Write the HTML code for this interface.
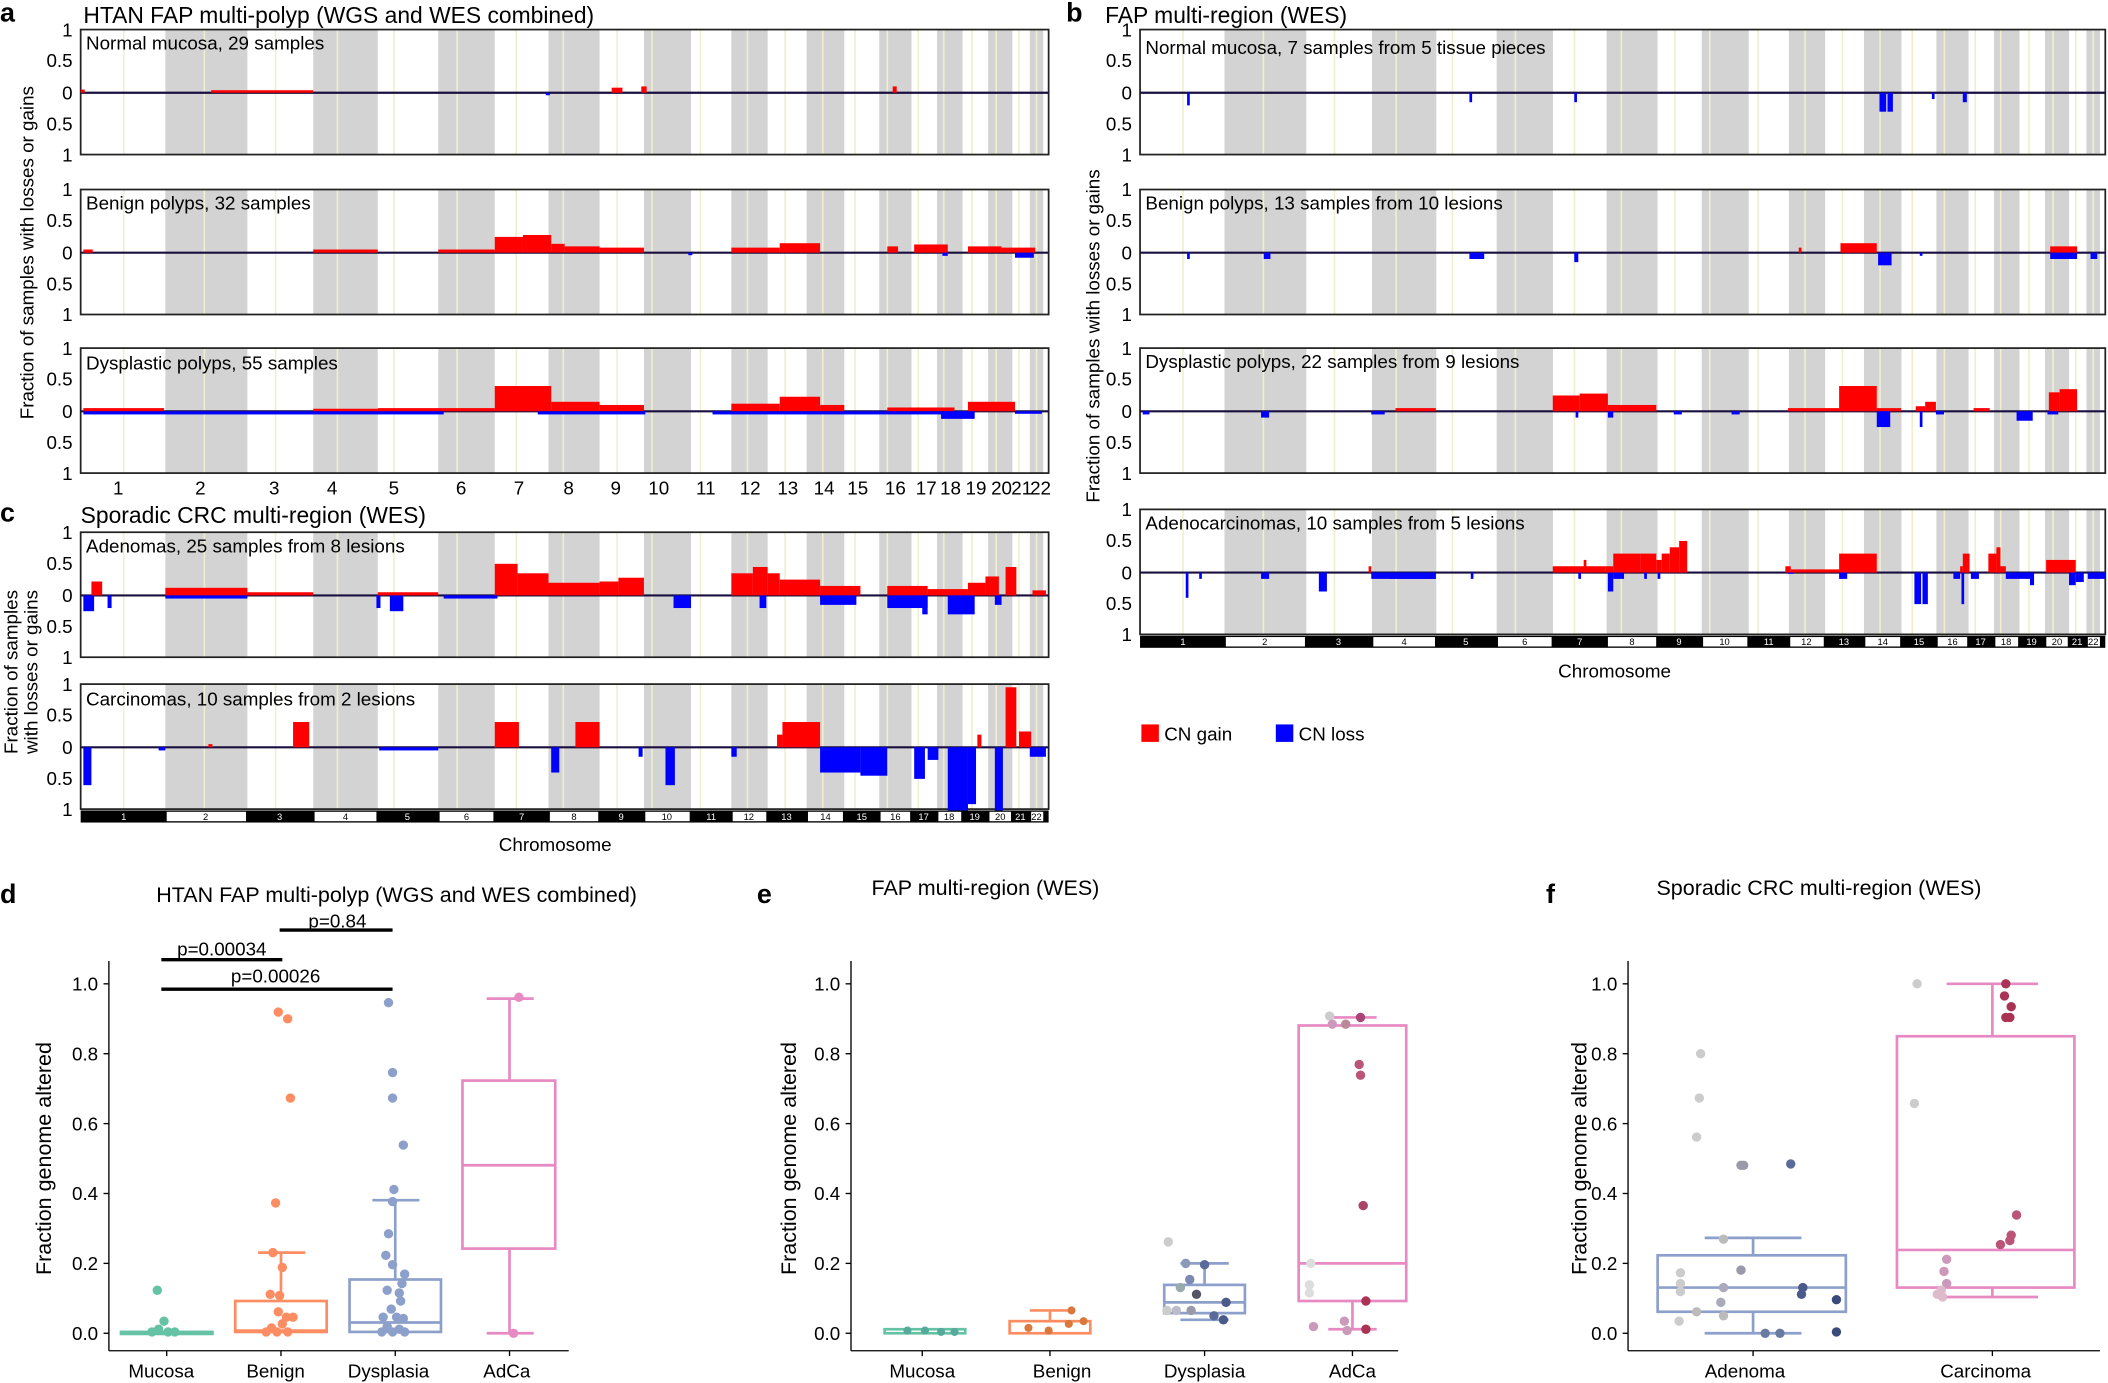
<!DOCTYPE html>
<html><head><meta charset="utf-8"><style>
html,body{margin:0;padding:0;background:#fff}
svg{display:block}
text{font-family:"Liberation Sans",Arial,sans-serif;fill:#000}
</style></head><body>
<svg width="2108" height="1383" viewBox="0 0 1568 1029" preserveAspectRatio="none" xmlns="http://www.w3.org/2000/svg">
<defs>
<g id="bg">
<g fill="#d3d3d3">
<rect x="123" y="0" width="61" height="93"/><rect x="233" y="0" width="48" height="93"/><rect x="326" y="0" width="42" height="93"/><rect x="408" y="0" width="38" height="93"/><rect x="479" y="0" width="35" height="93"/><rect x="544" y="0" width="27" height="93"/><rect x="600" y="0" width="28" height="93"/><rect x="654" y="0" width="24" height="93"/><rect x="697" y="0" width="19" height="93"/><rect x="735" y="0" width="18" height="93"/><rect x="766" y="0" width="10" height="93"/>
</g>
<g stroke="#efefcf" stroke-width="1.2">
<line x1="92" y1="0" x2="92" y2="93"/><line x1="152" y1="0" x2="152" y2="93"/><line x1="205" y1="0" x2="205" y2="93"/><line x1="251" y1="0" x2="251" y2="93"/><line x1="293" y1="0" x2="293" y2="93"/><line x1="340" y1="0" x2="340" y2="93"/><line x1="384" y1="0" x2="384" y2="93"/><line x1="419" y1="0" x2="419" y2="93"/><line x1="459" y1="0" x2="459" y2="93"/><line x1="485" y1="0" x2="485" y2="93"/><line x1="521" y1="0" x2="521" y2="93"/><line x1="556" y1="0" x2="556" y2="93"/><line x1="584" y1="0" x2="584" y2="93"/><line x1="612" y1="0" x2="612" y2="93"/><line x1="636" y1="0" x2="636" y2="93"/><line x1="660" y1="0" x2="660" y2="93"/><line x1="683" y1="0" x2="683" y2="93"/><line x1="702" y1="0" x2="702" y2="93"/><line x1="723" y1="0" x2="723" y2="93"/><line x1="741" y1="0" x2="741" y2="93"/><line x1="758" y1="0" x2="758" y2="93"/><line x1="771" y1="0" x2="771" y2="93"/>
</g>
<rect x="60" y="0" width="720" height="93" fill="none" stroke="#222" stroke-width="1.3"/>
<line x1="60" y1="47" x2="780" y2="47" stroke="#1a1040" stroke-width="1.6"/>
</g>
<g id="ytk" font-size="14" text-anchor="end">
<text x="54" y="5">1</text><text x="54" y="28">0.5</text><text x="54" y="52">0</text><text x="54" y="75">0.5</text><text x="54" y="98">1</text>
</g>
<g id="chrbar">
<rect x="60" y="0" width="720" height="9" fill="#000"/>
<g fill="#fff"><rect x="124" y="1" width="59" height="7"/><rect x="234" y="1" width="46" height="7"/><rect x="327" y="1" width="40" height="7"/><rect x="409" y="1" width="36" height="7"/><rect x="480" y="1" width="33" height="7"/><rect x="545" y="1" width="25" height="7"/><rect x="601" y="1" width="26" height="7"/><rect x="655" y="1" width="22" height="7"/><rect x="698" y="1" width="17" height="7"/><rect x="736" y="1" width="16" height="7"/><rect x="767" y="1" width="9" height="7"/></g>
<g font-size="7" text-anchor="middle">
<text x="92" y="7" fill="#fff" style="fill:#fff">1</text><text x="153" y="7">2</text><text x="208" y="7" style="fill:#fff">3</text><text x="257" y="7">4</text><text x="303" y="7" style="fill:#fff">5</text><text x="347" y="7">6</text><text x="388" y="7" style="fill:#fff">7</text><text x="427" y="7">8</text><text x="462" y="7" style="fill:#fff">9</text><text x="496" y="7">10</text><text x="529" y="7" style="fill:#fff">11</text><text x="557" y="7">12</text><text x="585" y="7" style="fill:#fff">13</text><text x="614" y="7">14</text><text x="641" y="7" style="fill:#fff">15</text><text x="666" y="7">16</text><text x="687" y="7" style="fill:#fff">17</text><text x="706" y="7">18</text><text x="725" y="7" style="fill:#fff">19</text><text x="744" y="7">20</text><text x="759" y="7" style="fill:#fff">21</text><text x="771" y="7">22</text>
</g>
</g>
</defs>

<!-- Panel a -->
<text x="0" y="16" font-size="20" font-weight="bold">a</text>
<text x="62" y="17" font-size="17">HTAN FAP multi-polyp (WGS and WES combined)</text>
<text transform="translate(25,188) rotate(-90)" font-size="14" text-anchor="middle">Fraction of samples with losses or gains</text>

<use href="#bg" y="22"/><use href="#ytk" y="22"/>
<g transform="translate(0,69) scale(1,-47)" fill="#f00"><rect x="157" y="0" width="76" height=".04"/><rect x="455" y="0" width="8" height=".08"/><rect x="477" y="0" width="4" height=".1"/><rect x="664" y="0" width="3" height=".1"/><rect x="60" y="0" width="3" height=".05"/></g>
<g transform="translate(0,69) scale(1,47)" fill="#00f"><rect x="406" y="0" width="3" height=".04"/></g>
<text x="64" y="37" font-size="14">Normal mucosa, 29 samples</text>

<use href="#bg" y="141"/><use href="#ytk" y="141"/>
<g transform="translate(0,188) scale(1,-47)" fill="#f00"><rect x="62" y="0" width="7" height=".05"/><rect x="233" y="0" width="48" height=".05"/><rect x="326" y="0" width="42" height=".05"/><rect x="368" y="0" width="21" height=".25"/><rect x="389" y="0" width="21" height=".28"/><rect x="410" y="0" width="10" height=".14"/><rect x="420" y="0" width="26" height=".1"/><rect x="446" y="0" width="33" height=".08"/><rect x="544" y="0" width="36" height=".08"/><rect x="580" y="0" width="30" height=".15"/><rect x="660" y="0" width="8" height=".1"/><rect x="680" y="0" width="25" height=".13"/><rect x="720" y="0" width="25" height=".1"/><rect x="745" y="0" width="25" height=".08"/></g>
<g transform="translate(0,188) scale(1,47)" fill="#00f"><rect x="755" y="0" width="14" height=".08"/><rect x="701" y="0" width="4" height=".05"/><rect x="512" y="0" width="3" height=".04"/></g>
<text x="64" y="156" font-size="14">Benign polyps, 32 samples</text>

<use href="#bg" y="259"/><use href="#ytk" y="259"/>
<g transform="translate(0,306) scale(1,-47)" fill="#f00"><rect x="62" y="0" width="60" height=".05"/><rect x="233" y="0" width="48" height=".04"/><rect x="281" y="0" width="87" height=".05"/><rect x="368" y="0" width="42" height=".4"/><rect x="410" y="0" width="36" height=".15"/><rect x="446" y="0" width="33" height=".1"/><rect x="544" y="0" width="36" height=".12"/><rect x="580" y="0" width="30" height=".23"/><rect x="610" y="0" width="18" height=".1"/><rect x="660" y="0" width="50" height=".06"/><rect x="720" y="0" width="35" height=".15"/></g>
<g transform="translate(0,306) scale(1,47)" fill="#00f"><rect x="62" y="0" width="268" height=".05"/><rect x="400" y="0" width="80" height=".05"/><rect x="530" y="0" width="190" height=".05"/><rect x="700" y="0" width="25" height=".12"/><rect x="755" y="0" width="20" height=".04"/></g>
<text x="64" y="275" font-size="14">Dysplastic polyps, 55 samples</text>

<g font-size="14" text-anchor="middle">
<text x="88" y="368">1</text><text x="149" y="368">2</text><text x="204" y="368">3</text><text x="247" y="368">4</text><text x="293" y="368">5</text><text x="343" y="368">6</text><text x="386" y="368">7</text><text x="423" y="368">8</text><text x="458" y="368">9</text><text x="490" y="368">10</text><text x="525" y="368">11</text><text x="558" y="368">12</text><text x="586" y="368">13</text><text x="613" y="368">14</text><text x="638" y="368">15</text><text x="666" y="368">16</text><text x="689" y="368">17</text><text x="707" y="368">18</text><text x="726" y="368">19</text><text x="745" y="368">20</text><text x="760" y="368">21</text><text x="774" y="368">22</text>
</g>

<!-- Panel c -->
<text x="0" y="388" font-size="20" font-weight="bold">c</text>
<text x="60" y="389" font-size="17">Sporadic CRC multi-region (WES)</text>
<text transform="translate(13,500) rotate(-90)" font-size="14" text-anchor="middle">Fraction of samples</text>
<text transform="translate(28,500) rotate(-90)" font-size="14" text-anchor="middle">with losses or gains</text>

<use href="#bg" y="396"/><use href="#ytk" y="396"/>
<g transform="translate(0,443) scale(1,-47)" fill="#f00"><rect x="68" y="0" width="8" height=".22"/><rect x="123" y="0" width="61" height=".12"/><rect x="184" y="0" width="49" height=".05"/><rect x="281" y="0" width="45" height=".05"/><rect x="368" y="0" width="17" height=".5"/><rect x="385" y="0" width="23" height=".35"/><rect x="408" y="0" width="38" height=".2"/><rect x="446" y="0" width="14" height=".22"/><rect x="460" y="0" width="19" height=".28"/><rect x="544" y="0" width="16" height=".35"/><rect x="560" y="0" width="11" height=".45"/><rect x="571" y="0" width="9" height=".35"/><rect x="580" y="0" width="30" height=".25"/><rect x="610" y="0" width="30" height=".15"/><rect x="660" y="0" width="30" height=".15"/><rect x="690" y="0" width="30" height=".1"/><rect x="720" y="0" width="13" height=".2"/><rect x="733" y="0" width="10" height=".3"/><rect x="748" y="0" width="8" height=".45"/><rect x="768" y="0" width="10" height=".08"/></g>
<g transform="translate(0,443) scale(1,47)" fill="#00f"><rect x="62" y="0" width="8" height=".25"/><rect x="80" y="0" width="3" height=".2"/><rect x="123" y="0" width="61" height=".05"/><rect x="280" y="0" width="3" height=".2"/><rect x="290" y="0" width="10" height=".25"/><rect x="501" y="0" width="13" height=".2"/><rect x="565" y="0" width="5" height=".2"/><rect x="610" y="0" width="27" height=".15"/><rect x="660" y="0" width="30" height=".2"/><rect x="686" y="0" width="4" height=".3"/><rect x="705" y="0" width="20" height=".3"/><rect x="740" y="0" width="5" height=".15"/><rect x="330" y="0" width="40" height=".05"/></g>
<text x="64" y="411" font-size="14">Adenomas, 25 samples from 8 lesions</text>

<use href="#bg" y="509"/><use href="#ytk" y="509"/>
<g transform="translate(0,556) scale(1,-47)" fill="#f00"><rect x="218" y="0" width="12" height=".4"/><rect x="368" y="0" width="18" height=".4"/><rect x="428" y="0" width="18" height=".4"/><rect x="582" y="0" width="28" height=".4"/><rect x="578" y="0" width="4" height=".2"/><rect x="727" y="0" width="3" height=".2"/><rect x="748" y="0" width="8" height=".95"/><rect x="758" y="0" width="9" height=".25"/><rect x="155" y="0" width="3" height=".05"/></g>
<g transform="translate(0,556) scale(1,47)" fill="#00f"><rect x="62" y="0" width="6" height=".6"/><rect x="118" y="0" width="5" height=".05"/><rect x="410" y="0" width="6" height=".4"/><rect x="475" y="0" width="3" height=".15"/><rect x="495" y="0" width="7" height=".6"/><rect x="544" y="0" width="4" height=".15"/><rect x="610" y="0" width="30" height=".4"/><rect x="640" y="0" width="20" height=".45"/><rect x="680" y="0" width="8" height=".5"/><rect x="705" y="0" width="15" height="1"/><rect x="720" y="0" width="6" height=".9"/><rect x="740" y="0" width="6" height="1"/><rect x="766" y="0" width="12" height=".15"/><rect x="282" y="0" width="44" height=".05"/><rect x="690" y="0" width="8" height=".2"/></g>
<text x="64" y="525" font-size="14">Carcinomas, 10 samples from 2 lesions</text>
<use href="#chrbar" y="603"/>
<text x="413" y="633" font-size="14" text-anchor="middle">Chromosome</text>

<!-- Panel b -->
<text x="793" y="16" font-size="20" font-weight="bold">b</text>
<text x="822" y="17" font-size="17">FAP multi-region (WES)</text>
<text transform="translate(818,250) rotate(-90)" font-size="14" text-anchor="middle">Fraction of samples with losses or gains</text>
<g transform="translate(848,0) scale(0.9972,1) translate(-60,0)">
<use href="#bg" y="22"/><use href="#bg" y="141"/><use href="#bg" y="259"/><use href="#bg" y="379"/><use href="#chrbar" y="473"/>
</g>
<g transform="translate(788,0)"><use href="#ytk" y="22"/><use href="#ytk" y="141"/><use href="#ytk" y="259"/><use href="#ytk" y="379"/></g>
<g transform="translate(0,69) scale(1,47)" fill="#00f"><rect x="883" y="0" width="2" height=".2"/><rect x="1093" y="0" width="2" height=".15"/><rect x="1171" y="0" width="2" height=".15"/><rect x="1398" y="0" width="5" height=".3"/><rect x="1404" y="0" width="4" height=".3"/><rect x="1437" y="0" width="2" height=".1"/><rect x="1460" y="0" width="3" height=".15"/></g>
<text x="852" y="40" font-size="14">Normal mucosa, 7 samples from 5 tissue pieces</text>
<g transform="translate(0,188) scale(1,-47)" fill="#f00"><rect x="1369" y="0" width="27" height=".15"/><rect x="1525" y="0" width="20" height=".1"/><rect x="1338" y="0" width="2" height=".08"/></g>
<g transform="translate(0,188) scale(1,47)" fill="#00f"><rect x="883" y="0" width="2" height=".1"/><rect x="940" y="0" width="5" height=".1"/><rect x="1093" y="0" width="11" height=".1"/><rect x="1171" y="0" width="3" height=".15"/><rect x="1397" y="0" width="10" height=".2"/><rect x="1428" y="0" width="2" height=".05"/><rect x="1525" y="0" width="20" height=".1"/><rect x="1555" y="0" width="5" height=".1"/></g>
<text x="852" y="156" font-size="14">Benign polyps, 13 samples from 10 lesions</text>
<g transform="translate(0,306) scale(1,-47)" fill="#f00"><rect x="1038" y="0" width="30" height=".05"/><rect x="1155" y="0" width="20" height=".25"/><rect x="1175" y="0" width="21" height=".28"/><rect x="1196" y="0" width="36" height=".1"/><rect x="1330" y="0" width="38" height=".05"/><rect x="1368" y="0" width="28" height=".4"/><rect x="1396" y="0" width="18" height=".05"/><rect x="1432" y="0" width="8" height=".15"/><rect x="1425" y="0" width="7" height=".08"/><rect x="1468" y="0" width="12" height=".05"/><rect x="1524" y="0" width="8" height=".3"/><rect x="1532" y="0" width="13" height=".35"/></g>
<g transform="translate(0,306) scale(1,47)" fill="#00f"><rect x="850" y="0" width="5" height=".05"/><rect x="938" y="0" width="6" height=".1"/><rect x="1020" y="0" width="10" height=".05"/><rect x="1172" y="0" width="2" height=".1"/><rect x="1196" y="0" width="4" height=".1"/><rect x="1245" y="0" width="6" height=".05"/><rect x="1288" y="0" width="6" height=".05"/><rect x="1396" y="0" width="10" height=".25"/><rect x="1428" y="0" width="2" height=".25"/><rect x="1440" y="0" width="6" height=".05"/><rect x="1500" y="0" width="12" height=".15"/><rect x="1523" y="0" width="8" height=".05"/></g>
<text x="852" y="274" font-size="14">Dysplastic polyps, 22 samples from 9 lesions</text>
<g transform="translate(0,426) scale(1,-47)" fill="#f00"><rect x="1018" y="0" width="2" height=".1"/><rect x="1155" y="0" width="39" height=".1"/><rect x="1178" y="0" width="2" height=".2"/><rect x="1194" y="0" width="6" height=".1"/><rect x="1200" y="0" width="20" height=".3"/><rect x="1220" y="0" width="12" height=".3"/><rect x="1232" y="0" width="4" height=".2"/><rect x="1236" y="0" width="6" height=".3"/><rect x="1242" y="0" width="7" height=".4"/><rect x="1249" y="0" width="6" height=".5"/><rect x="1328" y="0" width="4" height=".1"/><rect x="1332" y="0" width="36" height=".05"/><rect x="1368" y="0" width="28" height=".3"/><rect x="1458" y="0" width="2" height=".1"/><rect x="1460" y="0" width="5" height=".3"/><rect x="1479" y="0" width="6" height=".3"/><rect x="1485" y="0" width="3" height=".4"/><rect x="1488" y="0" width="4" height=".1"/><rect x="1522" y="0" width="22" height=".2"/></g>
<g transform="translate(0,426) scale(1,47)" fill="#00f"><rect x="882" y="0" width="2" height=".4"/><rect x="892" y="0" width="2" height=".1"/><rect x="938" y="0" width="6" height=".1"/><rect x="981" y="0" width="6" height=".3"/><rect x="1020" y="0" width="48" height=".1"/><rect x="1034" y="0" width="34" height=".1"/><rect x="1094" y="0" width="2" height=".1"/><rect x="1174" y="0" width="2" height=".1"/><rect x="1196" y="0" width="4" height=".3"/><rect x="1200" y="0" width="8" height=".1"/><rect x="1223" y="0" width="2" height=".1"/><rect x="1233" y="0" width="2" height=".1"/><rect x="1330" y="0" width="4" height=".02"/><rect x="1368" y="0" width="6" height=".1"/><rect x="1424" y="0" width="5" height=".5"/><rect x="1430" y="0" width="4" height=".5"/><rect x="1453" y="0" width="5" height=".1"/><rect x="1459" y="0" width="2" height=".5"/><rect x="1466" y="0" width="6" height=".1"/><rect x="1492" y="0" width="18" height=".1"/><rect x="1510" y="0" width="3" height=".2"/><rect x="1539" y="0" width="5" height=".2"/><rect x="1544" y="0" width="6" height=".15"/><rect x="1553" y="0" width="13" height=".1"/></g>
<text x="852" y="394" font-size="14">Adenocarcinomas, 10 samples from 5 lesions</text>
<text x="1201" y="504" font-size="14" text-anchor="middle">Chromosome</text>

<!-- legend -->
<rect x="849" y="539" width="13" height="13" fill="#f00"/><text x="866" y="551" font-size="14">CN gain</text>
<rect x="949" y="539" width="13" height="13" fill="#00f"/><text x="966" y="551" font-size="14">CN loss</text>

<!-- Panel d -->
<text x="0" y="672" font-size="20" font-weight="bold">d</text>
<text x="295" y="671" font-size="16" text-anchor="middle">HTAN FAP multi-polyp (WGS and WES combined)</text>
<g stroke="#000" stroke-width="2.5"><line x1="208" y1="692" x2="292" y2="692"/><line x1="120" y1="714" x2="210" y2="714"/><line x1="120" y1="736" x2="292" y2="736"/></g>
<g font-size="14" text-anchor="middle"><text x="251" y="690">p=0.84</text><text x="165" y="711">p=0.00034</text><text x="205" y="731">p=0.00026</text></g>
<text transform="translate(38,862) rotate(-90)" font-size="16" text-anchor="middle">Fraction genome altered</text>
<g stroke="#000" stroke-width="1"><line x1="81" y1="715" x2="81" y2="1005"/><line x1="81" y1="1005" x2="423" y2="1005"/>
<line x1="77" y1="992" x2="81" y2="992"/><line x1="77" y1="940" x2="81" y2="940"/><line x1="77" y1="888" x2="81" y2="888"/><line x1="77" y1="836" x2="81" y2="836"/><line x1="77" y1="784" x2="81" y2="784"/><line x1="77" y1="732" x2="81" y2="732"/>
<line x1="124" y1="1005" x2="124" y2="1009"/><line x1="209" y1="1005" x2="209" y2="1009"/><line x1="294" y1="1005" x2="294" y2="1009"/><line x1="379" y1="1005" x2="379" y2="1009"/></g>
<g font-size="14" text-anchor="end"><text x="73" y="997">0.0</text><text x="73" y="945">0.2</text><text x="73" y="893">0.4</text><text x="73" y="841">0.6</text><text x="73" y="789">0.8</text><text x="73" y="737">1.0</text></g>
<g font-size="14" text-anchor="middle"><text x="120" y="1025">Mucosa</text><text x="205" y="1025">Benign</text><text x="289" y="1025">Dysplasia</text><text x="377" y="1025">AdCa</text></g>
<g fill="none" stroke-width="2">
<g stroke="#66c2a5"><rect x="90" y="991" width="68" height="1.5"/></g>
<g stroke="#fc8d62"><rect x="175" y="968" width="68" height="23"/><line x1="209" y1="968" x2="209" y2="932"/><line x1="192" y1="932" x2="227" y2="932"/><line x1="175" y1="990" x2="243" y2="990"/></g>
<g stroke="#8da0cb"><rect x="260" y="952" width="68" height="39"/><line x1="260" y1="984" x2="328" y2="984"/><line x1="294" y1="952" x2="294" y2="893"/><line x1="277" y1="893" x2="312" y2="893"/></g>
<g stroke="#e78ac3"><rect x="344" y="804" width="69" height="125"/><line x1="344" y1="867" x2="413" y2="867"/><line x1="379" y1="804" x2="379" y2="743"/><line x1="362" y1="743" x2="397" y2="743"/><line x1="379" y1="929" x2="379" y2="992"/><line x1="362" y1="992" x2="397" y2="992"/></g>
</g>
<g fill="#66c2a5"><circle cx="117" cy="960" r="3.5"/><circle cx="122" cy="983" r="3.5"/><circle cx="118" cy="989" r="3.5"/><circle cx="125" cy="991" r="3.5"/><circle cx="113" cy="991" r="3.5"/><circle cx="130" cy="991" r="3.5"/></g>
<g fill="#fc8d62"><circle cx="207" cy="753" r="3.5"/><circle cx="214" cy="758" r="3.5"/><circle cx="216" cy="817" r="3.5"/><circle cx="205" cy="895" r="3.5"/><circle cx="203" cy="932" r="3.5"/><circle cx="210" cy="943" r="3.5"/><circle cx="201" cy="963" r="3.5"/><circle cx="208" cy="964" r="3.5"/><circle cx="207" cy="976" r="3.5"/><circle cx="213" cy="980" r="3.5"/><circle cx="218" cy="980" r="3.5"/><circle cx="210" cy="985" r="3.5"/><circle cx="202" cy="988" r="3.5"/><circle cx="214" cy="991" r="3.5"/><circle cx="198" cy="991" r="3.5"/><circle cx="206" cy="991" r="3.5"/></g>
<g fill="#8da0cb"><circle cx="289" cy="746" r="3.5"/><circle cx="292" cy="798" r="3.5"/><circle cx="292" cy="817" r="3.5"/><circle cx="300" cy="852" r="3.5"/><circle cx="293" cy="885" r="3.5"/><circle cx="292" cy="894" r="3.5"/><circle cx="289" cy="918" r="3.5"/><circle cx="287" cy="934" r="3.5"/><circle cx="292" cy="941" r="3.5"/><circle cx="301" cy="948" r="3.5"/><circle cx="299" cy="955" r="3.5"/><circle cx="288" cy="960" r="3.5"/><circle cx="297" cy="962" r="3.5"/><circle cx="298" cy="968" r="3.5"/><circle cx="291" cy="974" r="3.5"/><circle cx="285" cy="980" r="3.5"/><circle cx="295" cy="980" r="3.5"/><circle cx="300" cy="981" r="3.5"/><circle cx="288" cy="987" r="3.5"/><circle cx="297" cy="989" r="3.5"/><circle cx="284" cy="991" r="3.5"/><circle cx="292" cy="991" r="3.5"/><circle cx="301" cy="991" r="3.5"/></g>
<g fill="#e78ac3"><circle cx="386" cy="742" r="3.5"/><circle cx="382" cy="992" r="3.5"/></g>

<!-- Panel e -->
<text x="563" y="672" font-size="20" font-weight="bold">e</text>
<text x="733" y="666" font-size="16" text-anchor="middle">FAP multi-region (WES)</text>
<text transform="translate(592,862) rotate(-90)" font-size="16" text-anchor="middle">Fraction genome altered</text>
<g stroke="#000" stroke-width="1"><line x1="633" y1="715" x2="633" y2="1005"/><line x1="633" y1="1005" x2="1040" y2="1005"/>
<line x1="629" y1="992" x2="633" y2="992"/><line x1="629" y1="940" x2="633" y2="940"/><line x1="629" y1="888" x2="633" y2="888"/><line x1="629" y1="836" x2="633" y2="836"/><line x1="629" y1="784" x2="633" y2="784"/><line x1="629" y1="732" x2="633" y2="732"/>
<line x1="686" y1="1005" x2="686" y2="1009"/><line x1="781" y1="1005" x2="781" y2="1009"/><line x1="896" y1="1005" x2="896" y2="1009"/><line x1="1006" y1="1005" x2="1006" y2="1009"/></g>
<g font-size="14" text-anchor="end"><text x="625" y="997">0.0</text><text x="625" y="945">0.2</text><text x="625" y="893">0.4</text><text x="625" y="841">0.6</text><text x="625" y="789">0.8</text><text x="625" y="737">1.0</text></g>
<g font-size="14" text-anchor="middle"><text x="686" y="1025">Mucosa</text><text x="790" y="1025">Benign</text><text x="896" y="1025">Dysplasia</text><text x="1006" y="1025">AdCa</text></g>
<g fill="none" stroke-width="2">
<g stroke="#66c2a5"><rect x="658" y="989" width="60" height="3"/></g>
<g stroke="#fc8d62"><rect x="751" y="983" width="60" height="9"/><line x1="781" y1="983" x2="781" y2="975"/><line x1="766" y1="975" x2="796" y2="975"/></g>
<g stroke="#8da0cb"><rect x="866" y="956" width="60" height="21"/><line x1="866" y1="969" x2="926" y2="969"/><line x1="896" y1="956" x2="896" y2="940"/><line x1="878" y1="940" x2="914" y2="940"/><line x1="878" y1="982" x2="914" y2="982"/></g>
<g stroke="#e78ac3"><rect x="966" y="763" width="80" height="205"/><line x1="966" y1="940" x2="1046" y2="940"/><line x1="1006" y1="968" x2="1006" y2="989"/><line x1="988" y1="989" x2="1024" y2="989"/><line x1="988" y1="757" x2="1024" y2="757"/></g>
</g>
<g fill="#5a9"><circle cx="675" cy="990" r="3"/><circle cx="688" cy="990" r="3"/><circle cx="700" cy="991" r="3"/><circle cx="710" cy="991" r="3"/></g>
<g fill="#d9773d"><circle cx="765" cy="988" r="3"/><circle cx="780" cy="990" r="3"/><circle cx="795" cy="985" r="3"/><circle cx="806" cy="983" r="3"/><circle cx="797" cy="975" r="3"/></g>
<g><circle cx="869" cy="924" r="3.5" fill="#ccc"/><circle cx="882" cy="940" r="3.5" fill="#8a9ab8"/><circle cx="885" cy="952" r="3.5" fill="#7b8cb0"/><circle cx="878" cy="958" r="3.5" fill="#9aa"/><circle cx="890" cy="963" r="3.5" fill="#556"/><circle cx="896" cy="941" r="3.5" fill="#5a6a9a"/><circle cx="868" cy="975" r="3.5" fill="#ccc"/><circle cx="875" cy="975" r="3.5" fill="#bbc"/><circle cx="886" cy="975" r="3.5" fill="#99a"/><circle cx="912" cy="969" r="3.5" fill="#4a5a8a"/><circle cx="910" cy="982" r="3.5" fill="#4a5a8a"/><circle cx="903" cy="979" r="3.5" fill="#5a6a9a"/></g>
<g><circle cx="989" cy="756" r="3.5" fill="#ccc"/><circle cx="991" cy="762" r="3.5" fill="#c9b"/><circle cx="1001" cy="762" r="3.5" fill="#b89"/><circle cx="1012" cy="757" r="3.5" fill="#a47"/><circle cx="1011" cy="792" r="3.5" fill="#b57"/><circle cx="1012" cy="800" r="3.5" fill="#b57"/><circle cx="1014" cy="897" r="3.5" fill="#a46"/><circle cx="975" cy="940" r="3.5" fill="#ddd"/><circle cx="974" cy="956" r="3.5" fill="#ddd"/><circle cx="974" cy="962" r="3.5" fill="#ddd"/><circle cx="1016" cy="968" r="3.5" fill="#a35"/><circle cx="977" cy="987" r="3.5" fill="#c9b"/><circle cx="1000" cy="983" r="3.5" fill="#c9b"/><circle cx="1002" cy="990" r="3.5" fill="#c9b"/><circle cx="1016" cy="989" r="3.5" fill="#a35"/></g>

<!-- Panel f -->
<text x="1150" y="672" font-size="20" font-weight="bold">f</text>
<text x="1353" y="666" font-size="16" text-anchor="middle">Sporadic CRC multi-region (WES)</text>
<text transform="translate(1180,862) rotate(-90)" font-size="16" text-anchor="middle">Fraction genome altered</text>
<g stroke="#000" stroke-width="1"><line x1="1211" y1="715" x2="1211" y2="1005"/><line x1="1211" y1="1005" x2="1562" y2="1005"/>
<line x1="1207" y1="992" x2="1211" y2="992"/><line x1="1207" y1="940" x2="1211" y2="940"/><line x1="1207" y1="888" x2="1211" y2="888"/><line x1="1207" y1="836" x2="1211" y2="836"/><line x1="1207" y1="784" x2="1211" y2="784"/><line x1="1207" y1="732" x2="1211" y2="732"/>
<line x1="1304" y1="1005" x2="1304" y2="1009"/><line x1="1482" y1="1005" x2="1482" y2="1009"/></g>
<g font-size="14" text-anchor="end"><text x="1203" y="997">0.0</text><text x="1203" y="945">0.2</text><text x="1203" y="893">0.4</text><text x="1203" y="841">0.6</text><text x="1203" y="789">0.8</text><text x="1203" y="737">1.0</text></g>
<g font-size="14" text-anchor="middle"><text x="1298" y="1025">Adenoma</text><text x="1477" y="1025">Carcinoma</text></g>
<g fill="none" stroke-width="2">
<g stroke="#8da0cb"><rect x="1233" y="934" width="140" height="42"/><line x1="1233" y1="958" x2="1373" y2="958"/><line x1="1304" y1="934" x2="1304" y2="921"/><line x1="1268" y1="921" x2="1340" y2="921"/><line x1="1304" y1="976" x2="1304" y2="992"/><line x1="1268" y1="992" x2="1340" y2="992"/></g>
<g stroke="#e78ac3"><rect x="1411" y="771" width="132" height="187"/><line x1="1411" y1="930" x2="1543" y2="930"/><line x1="1482" y1="771" x2="1482" y2="732"/><line x1="1448" y1="732" x2="1516" y2="732"/><line x1="1482" y1="958" x2="1482" y2="965"/><line x1="1448" y1="965" x2="1516" y2="965"/></g>
</g>
<g><circle cx="1265" cy="784" r="3.5" fill="#ccc"/><circle cx="1264" cy="817" r="3.5" fill="#ccc"/><circle cx="1262" cy="846" r="3.5" fill="#ccc"/><circle cx="1295" cy="867" r="3.5" fill="#99a"/><circle cx="1297" cy="867" r="3.5" fill="#99a"/><circle cx="1332" cy="866" r="3.5" fill="#5a6a9a"/><circle cx="1282" cy="922" r="3.5" fill="#bbb"/><circle cx="1250" cy="947" r="3.5" fill="#ccc"/><circle cx="1250" cy="955" r="3.5" fill="#ccc"/><circle cx="1295" cy="945" r="3.5" fill="#99a"/><circle cx="1282" cy="958" r="3.5" fill="#aab"/><circle cx="1250" cy="961" r="3.5" fill="#ccc"/><circle cx="1282" cy="979" r="3.5" fill="#bbb"/><circle cx="1262" cy="976" r="3.5" fill="#bbb"/><circle cx="1249" cy="983" r="3.5" fill="#ccc"/><circle cx="1280" cy="969" r="3.5" fill="#aab"/><circle cx="1341" cy="958" r="3.5" fill="#4a5a8a"/><circle cx="1340" cy="963" r="3.5" fill="#4a5a8a"/><circle cx="1366" cy="967" r="3.5" fill="#3a4a7a"/><circle cx="1313" cy="992" r="3.5" fill="#6a7aa0"/><circle cx="1324" cy="992" r="3.5" fill="#6a7aa0"/><circle cx="1366" cy="991" r="3.5" fill="#3a4a7a"/></g>
<g><circle cx="1426" cy="732" r="3.5" fill="#ccc"/><circle cx="1424" cy="821" r="3.5" fill="#ccc"/><circle cx="1492" cy="732" r="3.5" fill="#a35"/><circle cx="1491" cy="741" r="3.5" fill="#a35"/><circle cx="1496" cy="749" r="3.5" fill="#a35"/><circle cx="1492" cy="757" r="3.5" fill="#a35"/><circle cx="1495" cy="757" r="3.5" fill="#a35"/><circle cx="1500" cy="904" r="3.5" fill="#b57"/><circle cx="1496" cy="919" r="3.5" fill="#b57"/><circle cx="1495" cy="923" r="3.5" fill="#b57"/><circle cx="1488" cy="926" r="3.5" fill="#b57"/><circle cx="1448" cy="937" r="3.5" fill="#c9b"/><circle cx="1446" cy="946" r="3.5" fill="#c9b"/><circle cx="1448" cy="955" r="3.5" fill="#c9b"/><circle cx="1444" cy="960" r="3.5" fill="#dbc"/><circle cx="1441" cy="963" r="3.5" fill="#dbc"/><circle cx="1445" cy="965" r="3.5" fill="#dbc"/></g>
</svg>
</body></html>
